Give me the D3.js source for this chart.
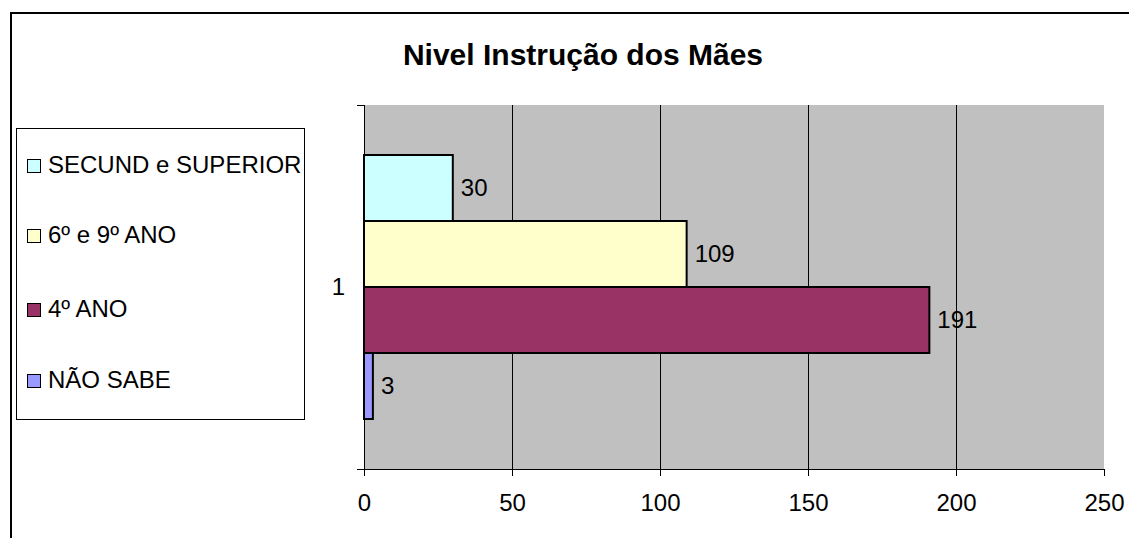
<!DOCTYPE html>
<html>
<head>
<meta charset="utf-8">
<script src="https://cdn.jsdelivr.net/npm/d3@7"></script>
<style>
  body { margin: 0; background: #fff; }
  svg { display: block; font-family: "Liberation Sans", Arial, sans-serif; }
</style>
</head>
<body>
<svg id="chart" width="1129" height="538"></svg>
<script>
// data
var series = ["SECUND e SUPERIOR", "6º e 9º ANO", "4º ANO", "NÃO SABE"];
var values = [30, 109, 191, 3];
var colors = ["#CCFFFF", "#FFFFCC", "#993366", "#9999FF"];
var categories = ["1"];
var xTicks = [0, 50, 100, 150, 200, 250];

var svg = d3.select("#chart");

// outer frame
svg.append("rect")
    .attr("x", 11).attr("y", 13)
    .attr("width", 1140).attr("height", 560)
    .style("fill", "none")
    .style("stroke", "#000")
    .style("stroke-width", "2px");

svg.append("text")
    .attr("x", 583).attr("y", 65)
    .attr("text-anchor", "middle")
    .style("font-size", "30px")
    .style("font-weight", "bold")
    .text("Nivel Instrução dos Mães");

var pLeft = 364, pRight = 1104, pTop = 105, pBottom = 469;

var x = d3.scaleLinear().domain([0, 250]).range([pLeft, pRight]);
var yCat = d3.scaleBand().domain(categories).range([pTop, pBottom]);
var ySer = d3.scaleBand().domain(series)
    .range([yCat("1") + 50, yCat("1") + yCat.bandwidth() - 50]);

svg.append("rect")
    .attr("x", pLeft).attr("y", pTop)
    .attr("width", pRight - pLeft).attr("height", pBottom - pTop)
    .style("fill", "#C0C0C0");

// gridlines
svg.selectAll("line.grid")
    .data(xTicks.slice(1, -1))
    .enter().append("line")
    .attr("class", "grid")
    .attr("x1", function(d) { return Math.round(x(d)) + 0.5; })
    .attr("x2", function(d) { return Math.round(x(d)) + 0.5; })
    .attr("y1", pTop).attr("y2", pBottom)
    .style("stroke", "#000")
    .style("stroke-width", "1px");

// bars
svg.selectAll("rect.bar")
    .data(values)
    .enter().append("rect")
    .attr("class", "bar")
    .attr("x", x(0))
    .attr("y", function(d, i) { return ySer(series[i]); })
    .attr("width", function(d) { return x(d) - x(0); })
    .attr("height", ySer.bandwidth())
    .style("fill", function(d, i) { return colors[i]; })
    .style("stroke", "#000")
    .style("stroke-width", "2px");

svg.selectAll("text.val")
    .data(values)
    .enter().append("text")
    .attr("class", "val")
    .attr("x", function(d) { return x(d) + 8; })
    .attr("y", function(d, i) { return ySer(series[i]) + ySer.bandwidth() / 2; })
    .attr("dy", "0.35em")
    .style("font-size", "24px")
    .text(function(d) { return d; });

// x axis
var xAxis = svg.append("g")
    .attr("transform", "translate(0," + pBottom + ")")
    .call(d3.axisBottom(x).tickValues(xTicks).tickSize(7).tickPadding(18));
xAxis.select(".domain").attr("d", "M" + (pLeft - 7) + ",0.5H" + pRight);
xAxis.selectAll("text").style("font-size", "24px").style("font-family", "Liberation Sans, Arial, sans-serif").attr("fill", "#000");

// y axis
var yAxis = svg.append("g")
    .attr("transform", "translate(" + pLeft + ",0)")
    .call(d3.axisLeft(yCat).tickSize(0).tickPadding(19));
yAxis.select(".domain").remove();
yAxis.selectAll("text").style("font-size", "24px").style("font-family", "Liberation Sans, Arial, sans-serif").attr("fill", "#000");
svg.append("line")
    .attr("x1", pLeft + 0.5).attr("x2", pLeft + 0.5)
    .attr("y1", pTop).attr("y2", pBottom)
    .style("stroke", "#000");
svg.selectAll("line.ytick")
    .data([pTop, pBottom])
    .enter().append("line")
    .attr("class", "ytick")
    .attr("x1", pLeft - 7).attr("x2", pLeft)
    .attr("y1", function(d) { return d + 0.5; })
    .attr("y2", function(d) { return d + 0.5; })
    .style("stroke", "#000");

// legend
var legend = svg.append("g");
legend.append("rect")
    .attr("x", 16.5).attr("y", 128.5)
    .attr("width", 288).attr("height", 291)
    .style("fill", "#fff")
    .style("stroke", "#000")
    .style("stroke-width", "1px");
var legendY = [165, 235, 309, 380];
var items = legend.selectAll("g.item")
    .data(series)
    .enter().append("g")
    .attr("class", "item")
    .attr("transform", function(d, i) { return "translate(27," + legendY[i] + ")"; });
items.append("rect")
    .attr("x", 0.5).attr("y", -5.5)
    .attr("width", 13).attr("height", 13)
    .style("fill", function(d) { return colors[series.indexOf(d)]; })
    .style("stroke", "#000");
items.append("text")
    .attr("x", 21).attr("dy", "0.35em")
    .style("font-size", "24px")
    .text(function(d) { return d; });
</script>
</body>
</html>
